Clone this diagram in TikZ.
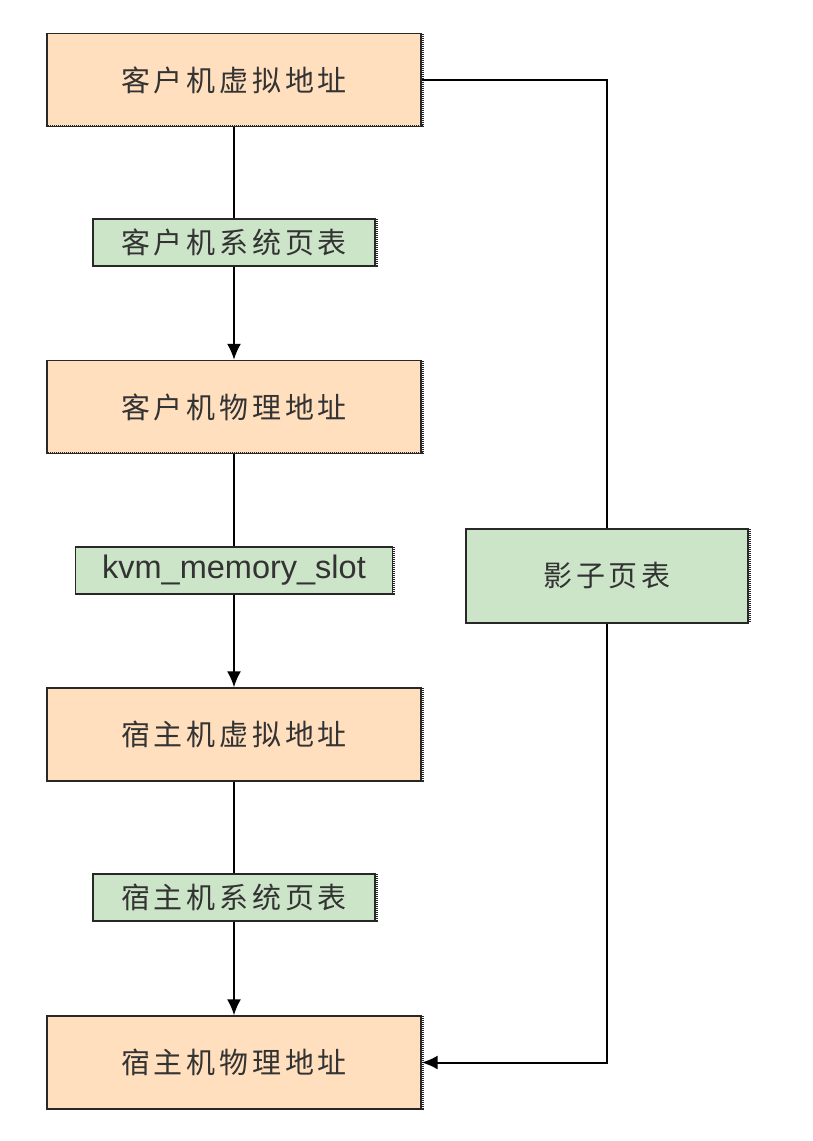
\documentclass[tikz,border=0pt]{standalone}
\usepackage{fontspec}
\setmainfont{Liberation Sans}
\newfontfamily\cjk[LetterSpace=13]{Noto Sans CJK SC}
\usetikzlibrary{arrows.meta}
\definecolor{peach}{RGB}{255,223,190}
\definecolor{mint}{RGB}{204,229,200}
\definecolor{edge}{RGB}{40,40,40}
\tikzset{
  addr/.style={draw=edge, line width=1.3pt, fill=peach, minimum width=374pt, minimum height=93pt, inner sep=0pt, font=\cjk\fontsize{29}{32}\selectfont, text=black!80},
  table/.style={draw=edge, line width=1.3pt, fill=mint, minimum width=282pt, minimum height=47pt, inner sep=0pt, font=\cjk\fontsize{29}{32}\selectfont, text=black!80},
  link/.style={draw=black, line width=2pt},
  arr/.style={link, -{Latex[length=16pt,width=14pt]}},
  shade/.style={draw=black!85, line width=2pt, dash pattern=on 1pt off 1pt}
}
\begin{document}
\begin{tikzpicture}[x=1pt,y=-1pt]
\useasboundingbox (0,0) rectangle (813,1141);
\node[addr] (gva) at (234,80) {客户机虚拟地址};
\node[table] (gpt) at (234,242.5) {客户机系统页表};
\node[addr] (gpa) at (234,407) {客户机物理地址};
\node[table, minimum width=317pt, font=\fontsize{32.5}{35}\selectfont] (slot) at (234,570.5) {kvm\_memory\_slot};
\node[addr] (hva) at (234,734.5) {宿主机虚拟地址};
\node[table] (hpt) at (234,897.5) {宿主机系统页表};
\node[addr] (hpa) at (234,1062.5) {宿主机物理地址};
\node[table, minimum height=94pt] (spt) at (607,576) {影子页表};
\foreach \n in {gva,gpt,gpa,slot,hva,hpt,hpa,spt}{
  \draw[shade] ([xshift=1pt,yshift=-1pt]\n.north east) -- ([xshift=1pt,yshift=1pt]\n.south east) -- ([xshift=1pt,yshift=1pt]\n.south west);
}
\draw[link] (gva.south) -- (gpt.north);
\draw[arr] (gpt.south) -- (gpa.north);
\draw[link] (gpa.south) -- (slot.north);
\draw[arr] (slot.south) -- (hva.north);
\draw[link] (hva.south) -- (hpt.north);
\draw[arr] (hpt.south) -- (hpa.north);
\draw[link] (gva.east) -| (spt.north);
\draw[arr] (spt.south) |- (hpa.east);
\end{tikzpicture}
\end{document}
